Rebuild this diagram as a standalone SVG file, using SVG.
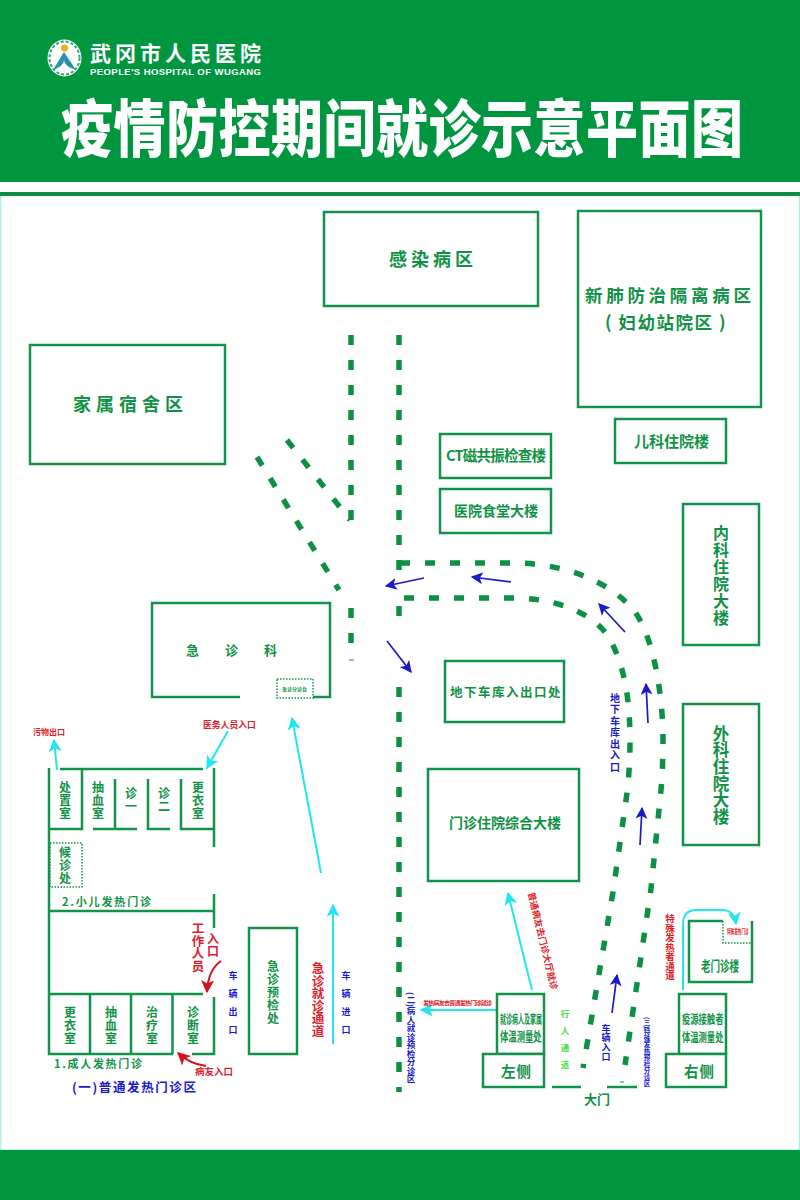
<svg xmlns="http://www.w3.org/2000/svg" width="800" height="1200" viewBox="0 0 800 1200">
<style>
text{font-family:"Noto Sans CJK SC","Noto Sans",sans-serif;font-weight:700;fill:#0f9245}
.v{writing-mode:vertical-rl}
.red{fill:#e0202c}
.blue{fill:#1a1ac8}
.lime{fill:#44dd44}
.box{fill:#fff;stroke:#12924a;stroke-width:2.500}
.w{fill:none;stroke:#12924a;stroke-width:2.500}
.dot{fill:none;stroke:#12924a;stroke-width:1.500;stroke-dasharray:1.500 1.500}
.road{fill:none;stroke:#0c9144;stroke-width:5.500;stroke-dasharray:10 15}
.ab{fill:none;stroke:#1a1ac8;stroke-width:1.700;marker-end:url(#mb)}
.ac{fill:none;stroke:#22e6ee;stroke-width:2;marker-end:url(#mc)}
.ar{fill:none;stroke:#d8101c;stroke-width:2;marker-end:url(#mr)}
</style>
<defs>
<marker id="mb" viewBox="0 0 10 10" refX="9" refY="5" markerWidth="12" markerHeight="12" markerUnits="userSpaceOnUse" orient="auto"><path d="M0 0L10 5L0 10L2.500 5Z" fill="#1a1ac8"/></marker>
<marker id="mc" viewBox="0 0 10 10" refX="9" refY="5" markerWidth="13" markerHeight="13" markerUnits="userSpaceOnUse" orient="auto"><path d="M0 0L10 5L0 10L2.500 5Z" fill="#22e6ee"/></marker>
<marker id="mr" viewBox="0 0 10 10" refX="9" refY="5" markerWidth="13" markerHeight="13" markerUnits="userSpaceOnUse" orient="auto"><path d="M0 0L10 5L0 10L2.500 5Z" fill="#d8101c"/></marker>
</defs>
<rect width="800" height="1200" fill="#fff"/>
<g id="frame">
<rect x="0.500" y="195" width="799" height="955" fill="none" stroke="#a8f0ec" stroke-width="1.500"/>
<rect x="0" y="0" width="800" height="182" fill="#009640"/>
<rect x="0" y="192" width="800" height="4" fill="#0c8f42"/>
<rect x="0" y="1150" width="800" height="50" fill="#009640"/>
</g>
<g id="header">
<g id="logo">
<ellipse cx="64.500" cy="58" rx="17" ry="18.500" fill="#fff"/>
<ellipse cx="64.500" cy="58" rx="15" ry="16.500" fill="none" stroke="#3aa070" stroke-width="2" stroke-dasharray="3 2"/>
<circle cx="64.500" cy="48" r="3.500" fill="#e8b020"/>
<path d="M64 52L53 70Q64 66 64 60Q64 66 76 70Z" fill="#2a90b0"/>
</g>
<text x="90" y="61" font-size="21" textLength="171" style="fill:#fff">武冈市人民医院</text>
<text x="90" y="75" font-size="9.500" textLength="171" style="fill:#fff;font-family:'Liberation Sans',sans-serif">PEOPLE'S HOSPITAL OF WUGANG</text>
<text transform="translate(61 152) scale(1 1.200)" font-size="52" textLength="682" style="fill:#fff;font-weight:900">疫情防控期间就诊示意平面图</text>
</g>
<g id="connectors">
<path class="road" d="M351 335V522"/>
<path class="road" d="M399 335V572"/>
<path class="road" d="M399 606V622"/>
<path class="road" d="M399 687V1092"/>
<path class="road" d="M287 440L350 520"/>
<path class="road" d="M257 457L339 590"/>
<path class="road" d="M351 608V648"/>
<path class="w" d="M349 660H354" style="stroke-width:1"/>
<path class="road" d="M400 563H508C560 562 610 580 635 612C655 640 663 700 663 740C663 770 661 790 661 790L651 889L625 1065"/>
<path class="road" d="M404 598H508C550 597 590 610 608 636C625 665 630 700 630 742C630 770 627 793 627 793L613 892L583 1068"/>
<path class="ab" d="M424 578L386 586"/>
<path class="ab" d="M511 582L472 577"/>
<path class="ab" d="M625 632L599 604"/>
<path class="ab" d="M648 723L646 684"/>
<path class="ab" d="M640 845L642 808"/>
<path class="ab" d="M387 641L411 672"/>
<path class="ab" d="M612 1013L617 975"/>
<path class="ac" d="M321 873L292 718"/>
<path class="ac" d="M333 1044V905"/>
<path class="ac" d="M57 770L54 740"/>
<path class="ac" d="M228 731L207 768"/>
<path class="ac" d="M532 990L508 893"/>
<path class="ac" d="M497 1010H421"/>
<path class="ac" d="M683 990V925Q683 910 696 910H722Q734 910 736 924"/>
<path class="ar" d="M221 961Q208 970 207 992"/>
<path class="ar" d="M206 1066Q190 1064 178 1053"/>
</g>
<g id="n-ganran"><rect class="box" x="324" y="212" width="214" height="94"/><text x="389" y="266" font-size="18" letter-spacing="4">感染病区</text></g>
<g id="n-xinfei"><rect class="box" x="578" y="211" width="183" height="196"/><text x="585" y="302" font-size="17.500" letter-spacing="3.700">新肺防治隔离病区</text><text x="605" y="329" font-size="17.500" letter-spacing="1.500">( 妇幼站院区 )</text></g>
<g id="n-jiashu"><rect class="box" x="30" y="345" width="195" height="119"/><text x="73" y="411" font-size="18" letter-spacing="5">家属宿舍区</text></g>
<g id="n-erke"><rect class="box" x="615" y="419" width="111" height="44"/><text x="634" y="447" font-size="15">儿科住院楼</text></g>
<g id="n-ct"><rect class="box" x="440" y="434" width="111" height="44"/><text x="446" y="461" font-size="14.500" textLength="100">CT磁共振检查楼</text></g>
<g id="n-shitang"><rect class="box" x="440" y="489" width="111" height="44"/><text x="454" y="516" font-size="14">医院食堂大楼</text></g>
<g id="n-neike"><rect class="box" x="683" y="504" width="76" height="141"/><text class="v" x="721" y="525" font-size="16" letter-spacing="1">内科住院大楼</text></g>
<g id="n-waike"><rect class="box" x="683" y="704" width="76" height="141"/><text class="v" x="721" y="725" font-size="16.500" letter-spacing="0.200">外科住院大楼</text></g>
<g id="n-dixia"><rect class="box" x="445" y="661" width="119" height="61"/><text x="450" y="697" font-size="12.500" letter-spacing="1.500">地下车库入出口处</text></g>
<g id="n-menzhen"><rect class="box" x="428" y="769" width="151" height="112"/><text x="449" y="828" font-size="14">门诊住院综合大楼</text></g>
<g id="n-jizhen">
<path class="w" d="M240 697H152V603H330V697H313"/>
<text x="186" y="655" font-size="13" letter-spacing="26">急诊科</text>
<rect class="dot" x="277" y="679" width="36" height="19"/>
<text x="282" y="691" font-size="5">急诊分诊台</text>
</g>
<g id="n-fever">
<path class="w" d="M49 768V1054H173M192 1054H214V997M214 928V894M214 847V768M60 769H203M82 769V829H49M93 829H137M115 779V829M148 779V829H170M181 779V829H214M49 911H214M49 994H203M90 994V1054M131 994V1054M172.500 994V1054"/>
<rect class="dot" x="50" y="843" width="32" height="44"/>
<g font-size="12" letter-spacing="1">
<text class="v" x="65" y="781">处置室</text>
<text class="v" x="98" y="781">抽血室</text>
<text class="v" x="131" y="787">诊一</text>
<text class="v" x="164" y="787">诊二</text>
<text class="v" x="198" y="781">更衣室</text>
<text class="v" x="65" y="846">候诊处</text>
<text class="v" x="70" y="1006">更衣室</text>
<text class="v" x="111" y="1006">抽血室</text>
<text class="v" x="152" y="1006">治疗室</text>
<text class="v" x="193" y="1006">诊断室</text>
</g>
<text x="62" y="906" font-size="11" textLength="89">2.小儿发热门诊</text>
<text x="54" y="1068" font-size="11" textLength="88">1.成人发热门诊</text>
<text class="blue" x="72" y="1092" font-size="12.500" textLength="124">(一)普通发热门诊区</text>
<text class="red" x="33" y="735" font-size="8">污物出口</text>
<text class="red" x="203" y="728" font-size="8.800">医务人员入口</text>
<text class="red" x="195" y="1075" font-size="9.500">病友入口</text>
<text class="red v" x="198" y="922" font-size="12.500">工作人员</text>
<text class="red v" x="213" y="933" font-size="12">入口</text>
</g>
<g id="n-yujian"><rect class="box" x="249" y="928" width="48" height="126"/><text class="v" x="273" y="960" font-size="12" letter-spacing="1">急诊预检处</text></g>
<g id="labels">
<text class="blue v" x="233" y="971" font-size="9" letter-spacing="9">车辆出口</text>
<text class="blue v" x="346" y="971" font-size="9" letter-spacing="9">车辆进口</text>
<text class="red v" x="318" y="962" font-size="12.500">急诊就诊通道</text>
<text class="blue v" x="615" y="693" font-size="10" letter-spacing="1.500">地下车库出入口</text>
<text class="red" transform="translate(528 893) rotate(76.500)" font-size="9" letter-spacing="0.100">普通病友去门诊大厅就诊</text>
<text class="red" x="423" y="1005" font-size="6" textLength="69">发热病友去普通发热门诊就诊</text>
<text class="blue v" x="411" y="992" font-size="8.500">(二)病人就诊预检分诊区</text>
<text class="lime v" x="565" y="1010" font-size="8.500" letter-spacing="8.500">行人通道</text>
<text class="blue v" x="606" y="1024" font-size="9" letter-spacing="0.500">车辆入口</text>
<text class="blue v" x="647" y="1017" font-size="6.500">(三)特殊发热预检分诊区</text>
<text class="red v" x="670" y="914" font-size="9.500">特殊发热者通道</text>
</g>
<g id="n-left">
<rect class="box" x="497" y="994" width="47" height="60"/>
<rect class="box" x="483" y="1054" width="61" height="33"/>
<text transform="translate(500 1024) scale(0.6 1.250)" font-size="10">就诊病人及家属</text>
<text transform="translate(500 1041) scale(0.72 1.100)" font-size="11.600">体温测量处</text>
<text x="501" y="1077" font-size="14.500" letter-spacing="1">左侧</text>
</g>
<g id="n-right">
<rect class="box" x="679" y="994" width="47" height="60"/>
<rect class="box" x="666" y="1054" width="60" height="33"/>
<text transform="translate(682 1024) scale(0.83 1.200)" font-size="10">疫源接触者</text>
<text transform="translate(682 1042) scale(0.83 1.200)" font-size="10">体温测量处</text>
<text x="684" y="1077" font-size="14.500" letter-spacing="1">右侧</text>
</g>
<g id="n-laomen">
<path class="w" d="M723 921H689V982H752V921"/>
<path class="dot" d="M723 921V943H752"/>
<text class="red" transform="translate(727 934) scale(0.6 1.200)" font-size="6">特殊发热门诊</text>
<text transform="translate(701 971) scale(0.83 1.150)" font-size="11.500">老门诊楼</text>
</g>
<g id="n-gate">
<path class="w" d="M552 1087H581M607 1087H637"/>
<path class="w" d="M620 1082H624" style="stroke-width:1"/>
<text x="584" y="1104" font-size="13">大门</text>
</g>
</svg>
